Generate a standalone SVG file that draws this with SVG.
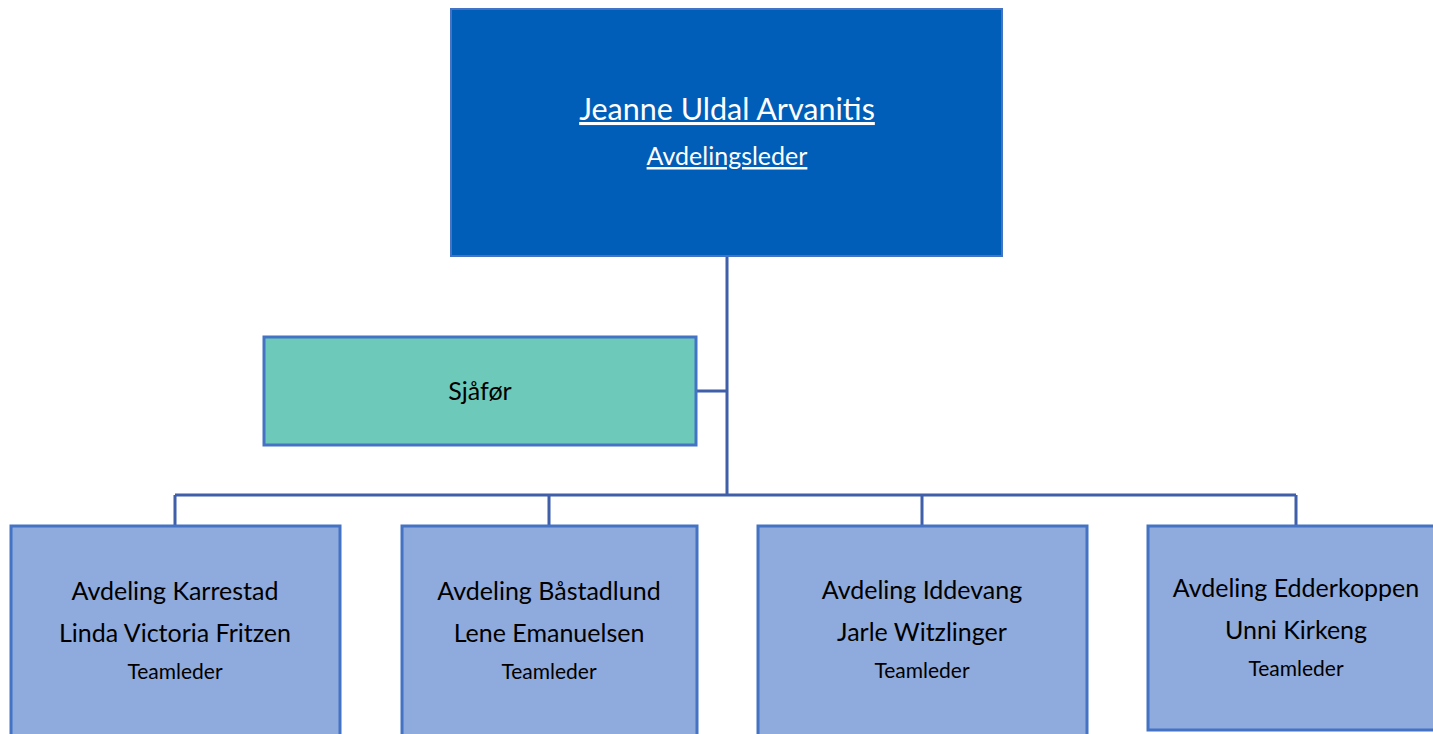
<svg xmlns="http://www.w3.org/2000/svg" width="1433" height="734" viewBox="0 0 1433 734">
<style>
.conn{stroke:#3F5FA8;stroke-width:3;fill:none}
.box{stroke:#4472C4;stroke-width:3}
.t{font-family:Lato,"Noto Sans",sans-serif;text-anchor:middle;fill:#000}
.big{font-size:25px}
.small{font-size:21px}
</style>
<rect width="1433" height="734" fill="#fff"/>
<g id="connectors">
<path class="conn" d="M727 256V495M696 391H727M175 495H1296M175 495V526M549 495V526M922 495V526M1296 495V526"/>
</g>
<g id="top">
<rect x="451" y="9" width="551" height="247" fill="#005EB8" stroke="#4472C4" stroke-width="2"/>
<text class="t" x="727" y="120" font-size="30.5" style="fill:#fff" text-decoration="underline">Jeanne Uldal Arvanitis</text>
<text class="t" x="727" y="165" font-size="25" style="fill:#fff" text-decoration="underline">Avdelingsleder</text>
</g>
<g id="sjafor">
<rect class="box" x="264" y="337" width="432" height="108" fill="#6DCABA"/>
<text class="t big" x="480" y="400">Sjåfør</text>
</g>
<g id="karrestad">
<rect class="box" x="11" y="526" width="329" height="212" fill="#8FAADC"/>
<text class="t big" x="175" y="600">Avdeling Karrestad</text>
<text class="t big" x="175" y="642">Linda Victoria Fritzen</text>
<text class="t small" x="175" y="679">Teamleder</text>
</g>
<g id="bastadlund">
<rect class="box" x="402" y="526" width="295" height="212" fill="#8FAADC"/>
<text class="t big" x="549" y="600">Avdeling Båstadlund</text>
<text class="t big" x="549" y="642">Lene Emanuelsen</text>
<text class="t small" x="549" y="679">Teamleder</text>
</g>
<g id="iddevang">
<rect class="box" x="758" y="526" width="329" height="212" fill="#8FAADC"/>
<text class="t big" x="922" y="599">Avdeling Iddevang</text>
<text class="t big" x="922" y="641">Jarle Witzlinger</text>
<text class="t small" x="922" y="678">Teamleder</text>
</g>
<g id="edderkoppen">
<rect class="box" x="1148" y="526" width="300" height="204" fill="#8FAADC"/>
<text class="t big" x="1296" y="597">Avdeling Edderkoppen</text>
<text class="t big" x="1296" y="639">Unni Kirkeng</text>
<text class="t small" x="1296" y="676">Teamleder</text>
</g>
</svg>
